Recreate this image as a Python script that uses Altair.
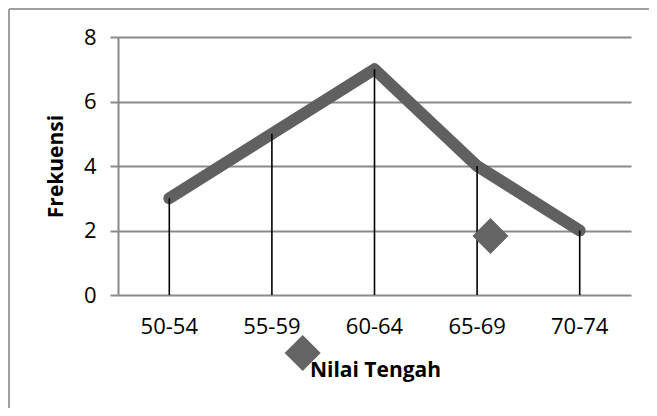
import altair as alt
import pandas as pd

categories = ["50-54", "55-59", "60-64", "65-69", "70-74"]
frekuensi = [3, 5, 7, 4, 2]
y_ticks = [0, 2, 4, 6, 8]

# stray diamond markers (x in band units, y in data units)
diamond_x = [3.63, 1.80]
diamond_y = [1.83, -1.8]

df = pd.DataFrame({"kelas": categories, "frekuensi": frekuensi})
dd = pd.DataFrame({"dx": diamond_x, "dy": diamond_y})
one = pd.DataFrame({"a": [0]})

FONT = "Open Sans"
GRID = "#8a8a8a"

x_scale = alt.Scale(domain=categories, paddingInner=0, paddingOuter=0)
x_enc = alt.X("kelas:N", sort=categories, scale=x_scale,
              axis=alt.Axis(title="Nilai Tengah", labelAngle=0, domain=False, ticks=False,
                            labelFontSize=22, labelFont=FONT, labelColor="#000",
                            labelPadding=21, titleFont=FONT, titleFontSize=21,
                            titleFontWeight="bold", titleColor="#000",
                            titleX=257, titleY=75, titleBaseline="middle"))
y_scale = alt.Scale(domain=[0, 8], nice=False, zero=True)
y_enc = alt.Y("frekuensi:Q", scale=y_scale,
              axis=alt.Axis(title="Frekuensi", values=y_ticks, grid=True, gridColor=GRID,
                            gridWidth=2, domainColor=GRID, domainWidth=2, tickColor=GRID,
                            tickWidth=2, tickSize=8, labelFontSize=22, labelFont=FONT,
                            labelColor="#000", labelPadding=14, titleFont=FONT,
                            titleFontSize=21, titleFontWeight="bold", titleColor="#000",
                            titleAngle=270, titleX=-62, titleY=129, titleAlign="center",
                            titleBaseline="middle"))

line = alt.Chart(df).mark_line(color="#606060", strokeWidth=12, strokeCap="round",
                               strokeJoin="round").encode(x=x_enc, y=y_enc)

drops = alt.Chart(df).mark_rule(color="#000", strokeWidth=1.6).encode(
    x=alt.X("kelas:N", sort=categories, scale=x_scale),
    y="frekuensi:Q", y2=alt.datum(0))

diamonds = alt.Chart(dd).mark_point(shape="diamond", filled=True, size=1300,
                                    color="#646464", opacity=1).encode(
    x=alt.X("dx:Q", scale=alt.Scale(domain=[0, 5], nice=False, zero=False), axis=None),
    y=alt.Y("dy:Q", scale=y_scale))

frame_top = alt.Chart(one).mark_rule(color="#a0a0a0", strokeWidth=2).encode(
    x=alt.value(-109), x2=alt.value(540), y=alt.value(-28))
frame_left = alt.Chart(one).mark_rule(color="#a0a0a0", strokeWidth=2).encode(
    x=alt.value(-109), y=alt.value(-28), y2=alt.value(400))

chart = alt.layer(alt.layer(line, drops), diamonds, frame_top, frame_left).resolve_scale(
    x="independent"
).properties(
    width=513, height=258, autosize="none",
    padding={"left": 110, "top": 29, "right": 18, "bottom": 113}
).configure_view(stroke=None)

chart.save("out.html", embed_options={"renderer": "svg", "actions": False})
